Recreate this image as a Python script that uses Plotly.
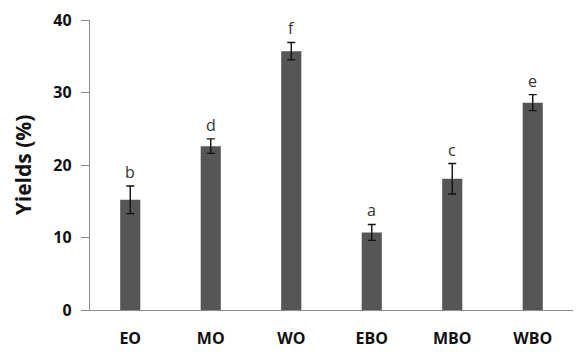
import plotly.graph_objects as go

# Oil yields per extraction method, with standard deviation and significance letters
categories = ["EO", "MO", "WO", "EBO", "MBO", "WBO"]
yields = [15.2, 22.6, 35.7, 10.7, 18.1, 28.6]
errors = [1.9, 1.0, 1.2, 1.1, 2.1, 1.1]
letters = ["b", "d", "f", "a", "c", "e"]
y_ticks = [0, 10, 20, 30, 40]

fig = go.Figure()
fig.add_trace(go.Bar(
    x=categories,
    y=yields,
    width=0.25,
    marker=dict(color="#565656", line=dict(width=0)),
    error_y=dict(type="data", array=errors, visible=True,
                 color="#111111", thickness=1.4, width=4),
    showlegend=False,
))

for cat, val, err, lab in zip(categories, yields, errors, letters):
    fig.add_annotation(
        x=cat, y=val + err, text=lab, showarrow=False,
        yanchor="bottom", yshift=1,
        font=dict(family="Open Sans", size=16, color="#333333"),
    )

fig.update_layout(
    width=577, height=352,
    margin=dict(l=90, r=4, t=20, b=42),
    paper_bgcolor="white", plot_bgcolor="white",
    bargap=0.75,
    xaxis=dict(
        showline=True, linecolor="#8c8c8c", linewidth=1.3,
        ticks="", showgrid=False, range=[-0.5, 5.5],
        tickfont=dict(family="Open Sans", size=16, color="#111111", weight="bold"),
        ticklabelstandoff=14, automargin=False,
    ),
    yaxis=dict(
        range=[0, 40], tickvals=y_ticks,
        showline=True, linecolor="#8c8c8c", linewidth=1.3,
        ticks="outside", ticklen=8, tickcolor="#8c8c8c", tickwidth=1.3,
        showgrid=False, zeroline=False, automargin=False,
        tickfont=dict(family="Open Sans", size=16, color="#111111", weight="bold"),
        ticklabelstandoff=6,
        title=dict(text="Yields (%)", standoff=16,
                   font=dict(family="Open Sans", size=21, color="#111111", weight="bold")),
    ),
)

fig.write_html("out.html")
